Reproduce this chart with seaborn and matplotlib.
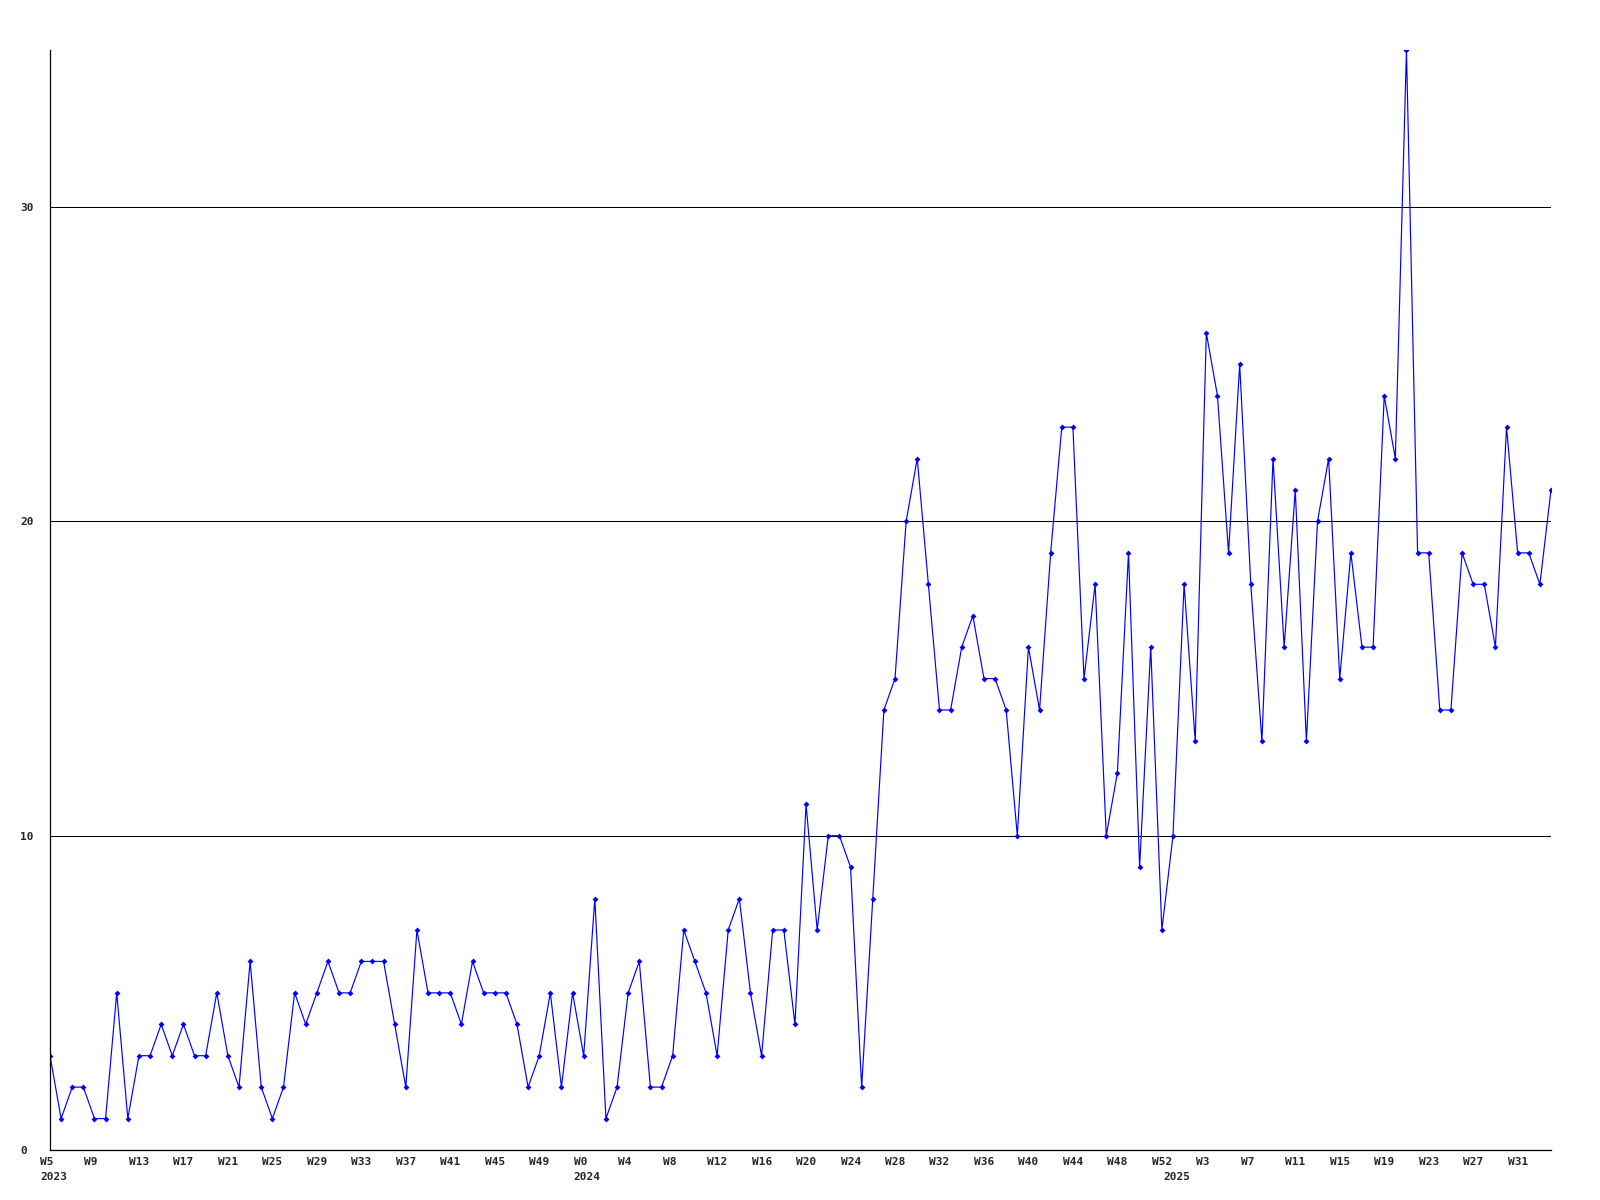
import matplotlib
matplotlib.use("Agg")
import matplotlib.pyplot as plt
import matplotlib.transforms as mtransforms
import pandas as pd
import seaborn as sns

# weekly counts
weeks_2023 = list(range(5, 53))
vals_2023 = [3, 1, 2, 2, 1, 1, 5, 1, 3, 3,
             4, 3, 4, 3, 3, 5, 3, 2, 6, 2,
             1, 2, 5, 4, 5, 6, 5, 5, 6, 6,
             6, 4, 2, 7, 5, 5, 5, 4, 6, 5,
             5, 5, 4, 2, 3, 5, 2, 5]
weeks_2024 = list(range(0, 53))
vals_2024 = [3, 8, 1, 2, 5, 6, 2, 2, 3, 7,
             6, 5, 3, 7, 8, 5, 3, 7, 7, 4,
             11, 7, 10, 10, 9, 2, 8, 14, 15, 20,
             22, 18, 14, 14, 16, 17, 15, 15, 14, 10,
             16, 14, 19, 23, 23, 15, 18, 10, 12, 19,
             9, 16, 7]
weeks_2025 = list(range(0, 35))
vals_2025 = [10, 18, 13, 26, 24, 19, 25, 18, 13, 22,
             16, 21, 13, 20, 22, 15, 19, 16, 16, 24,
             22, 35, 19, 19, 14, 14, 19, 18, 18, 16,
             23, 19, 19, 18, 21]
years = ["2023", "2024", "2025"]
y_ticks = [0, 10, 20, 30]

labels = ["W%d" % w for w in weeks_2023 + weeks_2024 + weeks_2025]
values = vals_2023 + vals_2024 + vals_2025
n = len(values)
year_starts = [0, len(vals_2023), len(vals_2023) + len(vals_2024)]

df = pd.DataFrame({"idx": range(n), "count": values})

sns.set_style("white")
plt.rcParams["font.family"] = ["DejaVu Sans Mono"]

fig = plt.figure(figsize=(16, 12), dpi=100)
ax = fig.add_axes([50 / 1600, 50 / 1200, 1501 / 1600, 1100 / 1200])

sns.lineplot(data=df, x="idx", y="count", ax=ax, color="#0000ff", lw=0.85,
             marker="D", markersize=3, markeredgewidth=0)

ax.set_xlim(0, n - 1)
ax.set_ylim(0, 35)
ax.set_xlabel("")
ax.set_ylabel("")

ax.yaxis.grid(True, color="black", lw=0.75)
ax.xaxis.grid(False)
ax.set_axisbelow(True)
for s in ["top", "right"]:
    ax.spines[s].set_visible(False)
for s in ["left", "bottom"]:
    ax.spines[s].set_color("black")
    ax.spines[s].set_linewidth(0.9)

ax.set_yticks(y_ticks)
ax.set_yticklabels([str(v) for v in y_ticks])
ax.tick_params(axis="y", length=0, pad=21.6, labelsize=8)
for lab in ax.get_yticklabels():
    lab.set_ha("left")
    lab.set_fontweight("bold")

tick_pos = list(range(0, n, 4))
ax.set_xticks(tick_pos)
ax.set_xticklabels([labels[i] for i in tick_pos])
ax.tick_params(axis="x", length=0, pad=5, labelsize=8)
shift = mtransforms.ScaledTranslation(-10 / 100, 0, fig.dpi_scale_trans)
for lab in ax.get_xticklabels():
    lab.set_ha("left")
    lab.set_fontweight("bold")
    lab.set_transform(lab.get_transform() + shift)

year_tr = mtransforms.blended_transform_factory(ax.transData, ax.transAxes)
year_tr = year_tr + mtransforms.ScaledTranslation(-10 / 100, -22 / 100, fig.dpi_scale_trans)
for yr, xi in zip(years, year_starts):
    ax.text(xi, 0, yr, transform=year_tr, ha="left", va="top",
            fontsize=8, fontweight="bold")

fig.savefig("out.png", dpi=100)
